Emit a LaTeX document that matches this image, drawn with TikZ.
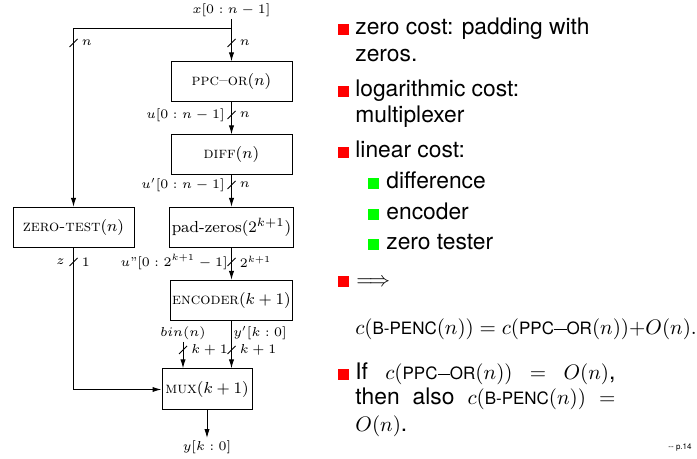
\documentclass[tikz,border=0pt]{standalone}
\usepackage{fix-cm}
\usepackage[no-math]{fontspec}
\newfontfamily\helv{TeX Gyre Heros}
\usetikzlibrary{positioning,arrows.meta}

\newcommand{\bpencname}{\mbox{\helv\fontsize{8.5}{9}\selectfont B-PENC}}
\newcommand{\ppcorname}{\mbox{\helv\fontsize{8.5}{9}\selectfont PPC\rule[2.4pt]{6.2pt}{0.75pt}OR}}
\newcommand{\mathsz}{\fontsize{10.5}{13.5}\selectfont}

\tikzset{
  wire/.style={line width=0.5pt},
  arr/.style={wire, -{Latex[length=4.5pt,width=2.6pt]}},
  blk/.style={draw, line width=0.5pt, minimum width=60.5pt, minimum height=20pt,
    inner sep=1pt, font=\fontsize{8}{9}\selectfont},
  lbl/.style={inner sep=1pt, font=\fontsize{6.5}{7.5}\selectfont},
  redbox/.style={fill=red, minimum size=5.5pt, inner sep=0pt},
  greenbox/.style={fill=green, minimum size=5.5pt, inner sep=0pt},
  itm/.style={anchor=base west, inner sep=0pt, font=\helv\fontsize{11.4}{13.5}\selectfont},
}

\begin{document}
\begin{tikzpicture}[x=0.5pt,y=-0.5pt]
\useasboundingbox (0,0) rectangle (697,459);

% the blocks
\node[blk] (ppc) at (231.5,82) {\textsc{ppc--or}$(n)$};
\node[blk] (diff) at (231.5,155) {\textsc{diff}$(n)$};
\node[blk] (pad) at (231.5,227.5) {pad-zeros$(2^{k+1})$};
\node[blk] (enc) at (231.5,300.5) {\textsc{encoder}$(k+1)$};
\node[blk] (zt) at (73.5,227.5) {\textsc{zero-test}$(n)$};
\node[blk, minimum width=45pt, minimum height=20.5pt] (mux) at (207,389.5) {\textsc{mux}$(k+1)$};

% signal names
\node[lbl] (xin) at (231.5,10) {$x[0:n-1]$};
\node[lbl, anchor=east] (u) at (227,115) {$u[0:n-1]$};
\node[lbl, anchor=east] (du) at (227,185) {$u'[0:n-1]$};
\node[lbl, anchor=east] (ddu) at (230,262) {$u$''$[0:2^{k+1}-1]$};
\node[lbl, anchor=east] (z) at (67,262) {$z$};
\node[lbl] (bin) at (183,333) {$bin(n)$};
\node[lbl] (yp) at (260,333) {$y'[k:0]$};
\node[lbl] (yout) at (207,447) {$y[k:0]$};
\coordinate (split) at (231.5,29);

% wires
\draw[wire] (xin.south) -- (split);
\draw[arr] (split) -- (ppc.north);
\draw[arr] (split) -| (zt.north);
\draw[arr] (ppc.south) -- (diff.north);
\draw[arr] (diff.south) -- (pad.north);
\draw[arr] (pad.south) -- (enc.north);
\draw[arr] (enc.south) -- (enc.south |- mux.north);
\draw[arr] (bin.south) -- (bin.south |- mux.north);
\draw[arr] (zt.south) |- (mux.west);
\draw[arr] (mux.south) -- (yout.north);

% bus widths
\foreach \px/\py/\w in {73.5/43/n, 231.5/43/n, 231.5/115/n, 231.5/185/n,
    73.5/262/1, 231.5/262/2^{k+1}, 183/350/k+1, 231.5/350/k+1}{
  \draw[wire] (\px,\py) ++(-4,4) -- ++(8,-8);
  \node[lbl, anchor=west] at (\px+6,\py) {$\w$};
}

% the list
\foreach \by in {35,97,158,287,380}
  \node[redbox] at (343,\by-5.5) {};
\foreach \by in {189,220,250}
  \node[greenbox] at (373.5,\by-5.5) {};

\node[itm] (t1) at (355,35) {zero cost: padding with};
\node[itm] (t2) at (355,62) {zeros.};
\node[itm] (t3) at (355,97) {logarithmic cost:};
\node[itm] (t4) at (355,123) {multiplexer};
\node[itm] (t5) at (355,158) {linear cost:};
\node[itm] (t6) at (386,189) {difference};
\node[itm] (t7) at (386,220) {encoder};
\node[itm] (t8) at (386,250) {zero tester};
\node[itm] (t9) at (356,287) {\mathsz$\Longrightarrow$};
\node[itm] (t10) at (355,335) {\mathsz$c(\bpencname(n)) = c(\ppcorname(n)){+}O(n).$};
\node[itm] (t11) at (355,380) {\makebox[130pt][l]{If\hfill{\mathsz$c(\ppcorname(n))$}\hfill{\mathsz$=$}\hfill{\mathsz$O(n)$},}};
\node[itm] (t12) at (355,405) {\makebox[130pt][l]{then\hfill also\hfill{\mathsz$c(\bpencname(n))$}\hfill{\mathsz$=$}}};
\node[itm] (t13) at (355,432) {{\mathsz$O(n)$}.};
\node[anchor=base east, inner sep=0pt, font=\helv\fontsize{4}{5}\selectfont] (pg) at (692,450) {-- p.14};
\end{tikzpicture}
\end{document}
